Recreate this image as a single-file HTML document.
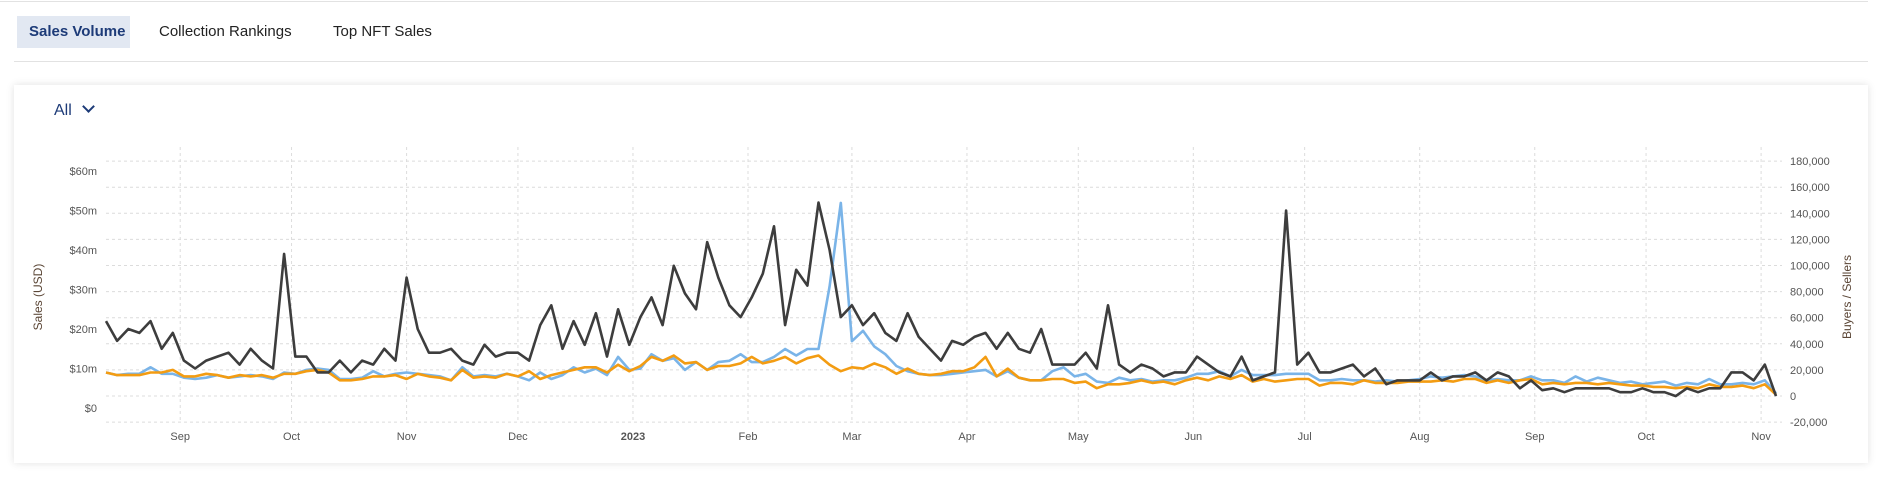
<!DOCTYPE html>
<html><head><meta charset="utf-8">
<style>
html,body{margin:0;padding:0;background:#fff;width:1884px;height:477px;overflow:hidden;font-family:"Liberation Sans",sans-serif;}
.top{position:absolute;left:0;top:1px;width:1868px;height:1px;background:#e2e2e2;}
.tab{position:absolute;top:16px;height:32px;line-height:32px;font-size:15px;color:#222;padding:0 12px;white-space:nowrap;}
.tab.active{background:#e2e8f2;color:#1d3b78;font-weight:bold;}
.sep{position:absolute;left:14px;top:61px;width:1854px;height:1px;background:#e2e2e2;}
.card{position:absolute;left:14px;top:85px;width:1854px;height:378px;background:#fff;box-shadow:0 0 8px rgba(0,0,0,0.12);}
.all{position:absolute;left:54px;top:102px;font-size:16px;color:#1d3b78;}
svg{position:absolute;left:0;top:0;}
</style></head><body>
<div class="top"></div>
<div class="tab active" style="left:17px;width:89px;">Sales Volume</div>
<div class="tab" style="left:147px">Collection Rankings</div>
<div class="tab" style="left:321px">Top NFT Sales</div>
<div class="sep"></div>
<div class="card"></div>
<div class="all">All <span style="display:inline-block;width:7px;height:7px;border-right:2px solid #1d3b78;border-bottom:2px solid #1d3b78;transform:rotate(45deg);margin-left:8px;position:relative;top:-4px"></span></div>
<svg id="chart" width="1884" height="477"></svg>
<script>
const monthLabels=["Sep","Oct","Nov","Dec","2023","Feb","Mar","Apr","May","Jun","Jul","Aug","Sep","Oct","Nov"];
const monthDays=[20,50,81,111,142,173,201,232,262,293,323,354,385,415,446];
const leftTicks=[0,10,20,30,40,50,60];
const rightTicks=[180,160,140,120,100,80,60,40,20,0,-20];
const salesM=[22,17,20,19,22,15,19,12,10,12,13,14,11,15,12,10,39,13,13,9,9,12,9,12,11,15,12,
33,20,14,14,15,12,11,16,13,14,14,12,21,26,15,22,16,24,13,25,16,23,28,21,36,29,25,42,33,26,23,28,34,46,21,35,
31,52,40,23,26,21,24,19,17,24,18,15,12,17,16,18,19,15,19,15,14,20,11,11,11,14,10,26,11,9,11,10,8,9,9,13,
11,9,8,13,7,8,9,50,11,14,9,9,10,11,8,10,6,7,7,7,9,7,8,8,9,7,9,8,5,7,4.5,5,4,5,5,
5,5,4,4,5,4,4,3,5,4,5,5,9,9,7,11,3];
const buyersK=[18,16,17,17,22,17,17,14,13,14,16,14,15,16,15,13,18,17,20,21,20,13,13,14,19,15,17,
18,17,16,15,12,22,15,16,15,17,15,12,18,13,16,22,18,21,16,30,20,21,32,27,29,20,26,20,26,27,32,26,26,30,36,31,
36,36,84,148,42,50,38,32,23,19,17,16,16,17,18,19,20,15,19,14,12,12,19,22,15,17,11,10,14,12,13,11,12,12,14,17,
17,19,15,20,16,16,16,17,17,17,12,12,13,12,12,11,12,11,12,13,15,14,15,16,15,12,13,12,12,15,12,12,10,15,11,
14,12,10,11,9,10,11,8,10,9,13,9,9,10,9,12,2];
const sellersK=[18,16,16,16,18,18,20,15,15,17,16,14,16,15,16,14,17,17,19,20,18,12,12,13,15,15,16,
13,17,15,14,12,20,14,15,14,17,15,19,13,16,18,20,22,22,18,24,19,23,30,27,31,25,26,20,23,23,25,30,25,27,30,25,
29,31,24,19,22,21,25,22,17,21,17,16,17,19,19,22,30,15,21,14,12,12,13,13,10,11,6,9,9,10,12,10,11,9,12,14,
12,15,13,16,11,13,11,12,13,13,8,10,10,9,12,10,10,10,11,11,11,12,11,13,13,10,12,10,12,13,9,10,9,10,10,
9,10,9,8,8,7,7,6,7,6,9,7,7,8,6,9,1];
const STEP=3;
const NS="http://www.w3.org/2000/svg";
const svg=document.getElementById('chart');
const X0=106,X1=1782,YT=147,YB=422;
const xDay=d=>106+3.711*d;
const yL=v=>408-3.95*v;
const yR=k=>396-1.305*k;
function mk(t,a){const e=document.createElementNS(NS,t);for(const k in a)e.setAttribute(k,a[k]);svg.appendChild(e);return e;}
rightTicks.forEach(k=>{
  const g=mk('line',{x1:X0,x2:X1,y1:yR(k),y2:yR(k),stroke:'#dcdcdc','stroke-dasharray':'3,3'});
  
  
  const t=mk('text',{x:1790,y:yR(k)+4,'font-size':11,fill:'#555'});
  t.textContent=k===0?'0':(k+',000');
  
  
});
leftTicks.forEach(v=>{
  const t=mk('text',{x:97,y:yL(v)+4,'font-size':11,fill:'#555','text-anchor':'end'});
  t.textContent='$'+v+(v===0?'':'m');
  
  
});
monthDays.forEach((d,i)=>{
  const x=xDay(d);
  const g=mk('line',{x1:x,x2:x,y1:YT,y2:YB,stroke:'#dcdcdc','stroke-dasharray':'3,3'});
  
  
  const t=mk('text',{x:x,y:440,'font-size':11,fill:'#555','text-anchor':'middle','font-weight':monthLabels[i]==='2023'?'bold':'normal'});
  t.textContent=monthLabels[i];
  
  
});
function series(arr,yf,color,name){
  const pts=arr.map((v,i)=>xDay(i*STEP).toFixed(1)+','+yf(v).toFixed(1)).join(' ');
  const p=mk('polyline',{points:pts,fill:'none',stroke:color,'stroke-width':2.6,'stroke-linejoin':'round'});
  
  
}
series(buyersK,yR,'#7ab4e8','buyers-line');
series(sellersK,yR,'#f39c12','sellers-line');
series(salesM,yL,'#3d3d3d','sales-line');
const lt=mk('text',{x:0,y:0,'font-size':12,fill:'#5b4636','text-anchor':'middle',transform:'translate(42,297) rotate(-90)'});
lt.textContent='Sales (USD)';


const rt=mk('text',{x:0,y:0,'font-size':12,fill:'#5b4636','text-anchor':'middle',transform:'translate(1851,297) rotate(-90)'});
rt.textContent='Buyers / Sellers';


</script>
</body></html>
